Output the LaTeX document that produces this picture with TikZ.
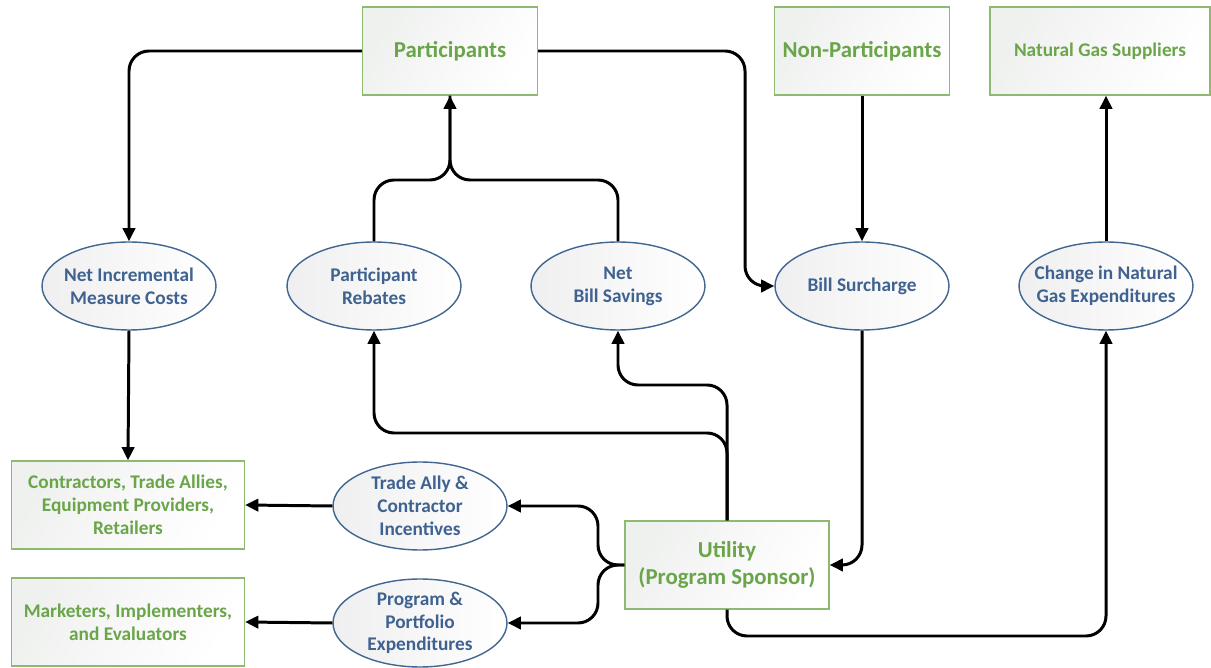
\documentclass[tikz,border=0pt]{standalone}
\usepackage{fontspec}
\setmainfont{Carlito}
\usetikzlibrary{arrows.meta,shapes.geometric}
\definecolor{grtext}{HTML}{6AA54A}
\definecolor{grline}{HTML}{8DBA70}
\definecolor{bltext}{HTML}{3F6290}
\definecolor{blline}{HTML}{41668F}
\tikzset{
  boxnode/.style={draw=grline,line width=0.8pt,left color=green!6!gray!12,right color=white,shading angle=60,
    minimum width=3.5cm,minimum height=1.76cm,align=center,text=grtext,font=\bfseries\fontsize{11pt}{13pt}\selectfont},
  bigtext/.style={font=\bfseries\fontsize{13pt}{15.5pt}\selectfont},
  ovalnode/.style={ellipse,draw=blline,line width=0.8pt,left color=blue!5!gray!12,right color=white,
    minimum width=3.48cm,minimum height=1.76cm,inner xsep=-0.25cm,inner ysep=0pt,align=center,text=bltext,
    font=\bfseries\fontsize{11pt}{13pt}\selectfont},
  conn/.style={line width=1.7pt,rounded corners=0.4cm},
  arr/.style={conn,-{Triangle[length=7.5pt,width=7pt]}}
}
\begin{document}
\begin{tikzpicture}[x=0.02cm,y=-0.02cm]
   \useasboundingbox (0,0) rectangle (1211,668);
   % top row
   \node[boxnode,bigtext] (part) at (450,51) {Participants};
   \node[boxnode,bigtext] (nonpart) at (862,51) {Non-Participants};
   \node[boxnode,minimum width=4.4cm] (gas) at (1100,51) {Natural Gas Suppliers};
   % ovals
   \node[ovalnode] (netinc) at (129,286) {Net Incremental\\Measure Costs};
   \node[ovalnode] (reb) at (374,286) {Participant\\Rebates};
   \node[ovalnode] (sav) at (618,286) {Net\\Bill Savings};
   \node[ovalnode] (bill) at (862,286) {Bill Surcharge};
   \node[ovalnode] (chg) at (1106,286) {Change in Natural\\Gas Expenditures};
   \node[ovalnode] (trade) at (420,506) {Trade Ally \&\\Contractor\\Incentives};
   \node[ovalnode] (prog) at (420,623) {Program \&\\Portfolio\\Expenditures};
   % bottom boxes
   \node[boxnode,minimum width=4.66cm] (contr) at (128,505) {Contractors, Trade Allies,\\Equipment Providers,\\Retailers};
   \node[boxnode,minimum width=4.66cm] (mark) at (128,622) {Marketers, Implementers,\\and Evaluators};
   \node[boxnode,bigtext,minimum width=4.08cm] (util) at (727,565) {Utility\\(Program Sponsor)};
   % turning points
   \coordinate (join) at (450,180); \coordinate (rebturn) at (374,433); \coordinate (savturn) at (618,385);
   \coordinate (gasturn) at (1106,636); \coordinate (billturn) at (745,286);
   \coordinate (tradeturn) at (598,506); \coordinate (progturn) at (598,623);
   % connectors
   \draw[arr] (part.west) -| (netinc.north);
   \draw[arr] (part.east) -| (billturn) -- (bill.west);
   \draw[arr] (nonpart.south) -- (bill.north);
   \draw[arr] (chg.north) -- (chg.north |- gas.south);
   \draw[arr] (reb.north) |- (join) -- (part.south);
   \draw[conn] (sav.north) |- (join) -- (part.south);
   \draw[arr] (netinc.south) -- (contr.north);
   \draw[arr] (bill.south) |- (util.east);
   \draw[arr] (util.north) |- (rebturn) -- (reb.south);
   \draw[arr] (util.north) |- (savturn) -- (sav.south);
   \draw[arr] (util.south) |- (gasturn) -- (chg.south);
   \draw[arr] (util.west) -| (tradeturn) -- (trade.east);
   \draw[arr] (util.west) -| (progturn) -- (prog.east);
   \draw[arr] (trade.west) -- (contr.east);
   \draw[arr] (prog.west) -- (mark.east);
\end{tikzpicture}
\end{document}
